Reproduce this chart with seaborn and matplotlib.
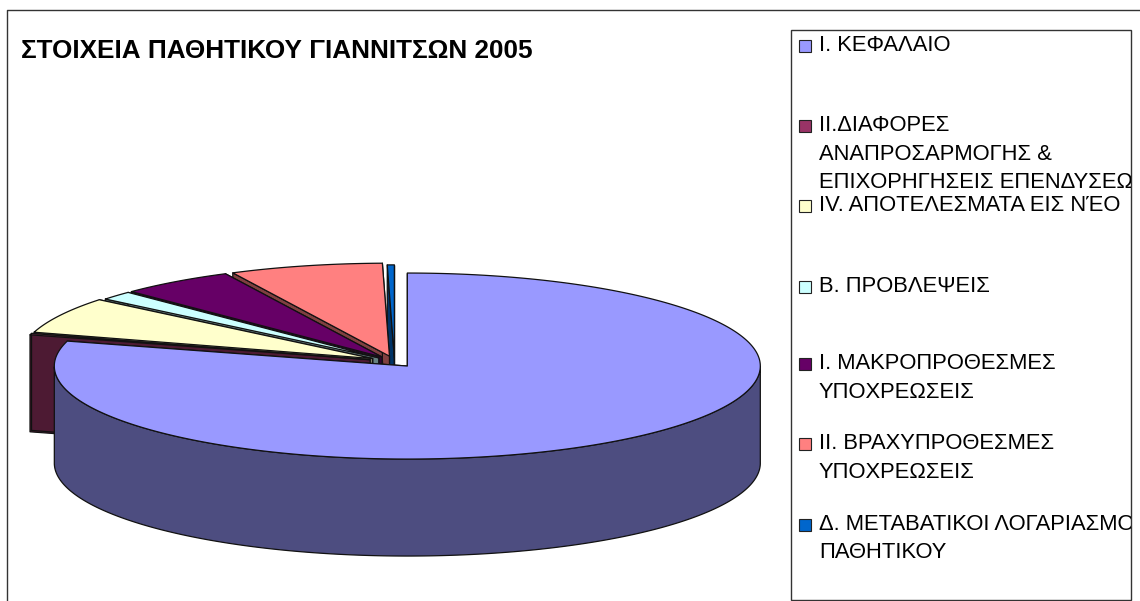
"""
ΣΤΟΙΧΕΙΑ ΠΑΘΗΤΙΚΟΥ - 3D exploded pie
"""
import numpy as np
import matplotlib
matplotlib.use('Agg')
import matplotlib.pyplot as plt
from matplotlib.patches import Rectangle
import seaborn as sns

sns.set_theme(style='white')
plt.rcParams['font.family'] = ['Liberation Sans', 'DejaVu Sans']

# ─── data ─────────────────────────────────────────────────────────────────────
title = 'ΣΤΟΙΧΕΙΑ ΠΑΘΗΤΙΚΟΥ ΓΙΑΝΝΙΤΣΩΝ 2005'
labels = [
    'Ι. ΚΕΦΑΛΑΙΟ',
    'ΙΙ.ΔΙΑΦΟΡΕΣ\nΑΝΑΠΡΟΣΑΡΜΟΓΗΣ &\nΕΠΙΧΟΡΗΓΗΣΕΙΣ ΕΠΕΝΔΥΣΕΩΝ',
    'IV. ΑΠΟΤΕΛΕΣΜΑΤΑ ΕΙΣ ΝΈΟ',
    'Β. ΠΡΟΒΛΕΨΕΙΣ',
    'Ι. ΜΑΚΡΟΠΡΟΘΕΣΜΕΣ\nΥΠΟΧΡΕΩΣΕΙΣ',
    'ΙΙ. ΒΡΑΧΥΠΡΟΘΕΣΜΕΣ\nΥΠΟΧΡΕΩΣΕΙΣ',
    'Δ. ΜΕΤΑΒΑΤΙΚΟΙ ΛΟΓΑΡΙΑΣΜΟΙ\nΠΑΘΗΤΙΚΟΥ',
]
shares = [79.33, 0.25, 6.33, 1.53, 5.25, 7.00, 0.32]
colors = ['#9999FF', '#993366', '#FFFFCC', '#CCFFFF', '#660066', '#FF8080', '#0066CC']

# ─── layout (pixels) ──────────────────────────────────────────────────────────
W, H = 1140, 601
CX, CY = 394.5, 361.6
RX, RY = 353, 93
DEPTH = 97
explode = [0.06, 0.072, 0.07, 0.06, 0.06, 0.06, 0.04]
legend_y = [46, 126, 206, 287, 364, 444, 524.5]
LEG_BOX = (791, 30, 340, 570)

fig, ax = plt.subplots(figsize=(W / 100, H / 100), dpi=100)
fig.subplots_adjust(0, 0, 1, 1)
ax.set_xlim(0, W)
ax.set_ylim(H, 0)
ax.axis('off')

tops = sns.color_palette(colors)
sides = [tuple(np.array(c) * 0.5) for c in tops]

# chart frame, cut off by the screenshot on the right and at the bottom
ax.plot([7, 7, W], [H, 10, 10], color='#333333', lw=1)

# ─── slices: clockwise from 12 o'clock, painted back to front ─────────────────
sweeps = np.array(shares) / np.sum(shares) * 360
ends = 90 - np.cumsum(sweeps)
starts = ends + sweeps


def draw_face(xs, ys, color):
    ax.fill(xs, ys, facecolor=color, edgecolor='#111111', lw=0.9, joinstyle='round')


for i in range(len(shares) - 1, -1, -1):
    mid = np.radians((starts[i] + ends[i]) / 2)
    ox = CX + explode[i] * RX * np.cos(mid)
    oy = CY - explode[i] * RY * np.sin(mid)
    t = np.radians(np.linspace(starts[i], ends[i], max(int(sweeps[i] * 2), 4)))
    ex = ox + RX * np.cos(t)
    ey = oy - RY * np.sin(t)

    # cut faces of the slice
    draw_face([ox, ex[0], ex[0], ox], [oy, ey[0], ey[0] + DEPTH, oy + DEPTH], sides[i])
    draw_face([ox, ex[-1], ex[-1], ox], [oy, ey[-1], ey[-1] + DEPTH, oy + DEPTH], sides[i])
    # outer wall, only the part that faces the viewer
    front = np.sin(t) <= 0
    if front.any():
        draw_face(np.r_[ex[front], ex[front][::-1]],
                  np.r_[ey[front], ey[front][::-1] + DEPTH], sides[i])
    # top
    draw_face(np.r_[ox, ex], np.r_[oy, ey], tops[i])

# ─── title and legend ─────────────────────────────────────────────────────────
ax.text(21, 51, title, fontsize=18.8, fontweight='bold', color='black',
        ha='left', va='center')

box = Rectangle(LEG_BOX[:2], LEG_BOX[2], LEG_BOX[3], facecolor='white',
                edgecolor='#333333', lw=1, zorder=3)
ax.add_patch(box)
for label, color, y in zip(labels, tops, legend_y):
    ax.add_patch(Rectangle((799, y - 6), 12, 12, facecolor=color,
                           edgecolor='#222222', lw=0.8, zorder=4))
    # long labels are cut by the legend box, same as in the original
    txt = ax.text(819, y - 11, label, fontsize=15.8, color='black', ha='left', va='top',
                  linespacing=1.47, zorder=4, clip_on=True)
    txt.set_clip_path(box)

plt.savefig('out.png', dpi=100, facecolor='white')
plt.close()
